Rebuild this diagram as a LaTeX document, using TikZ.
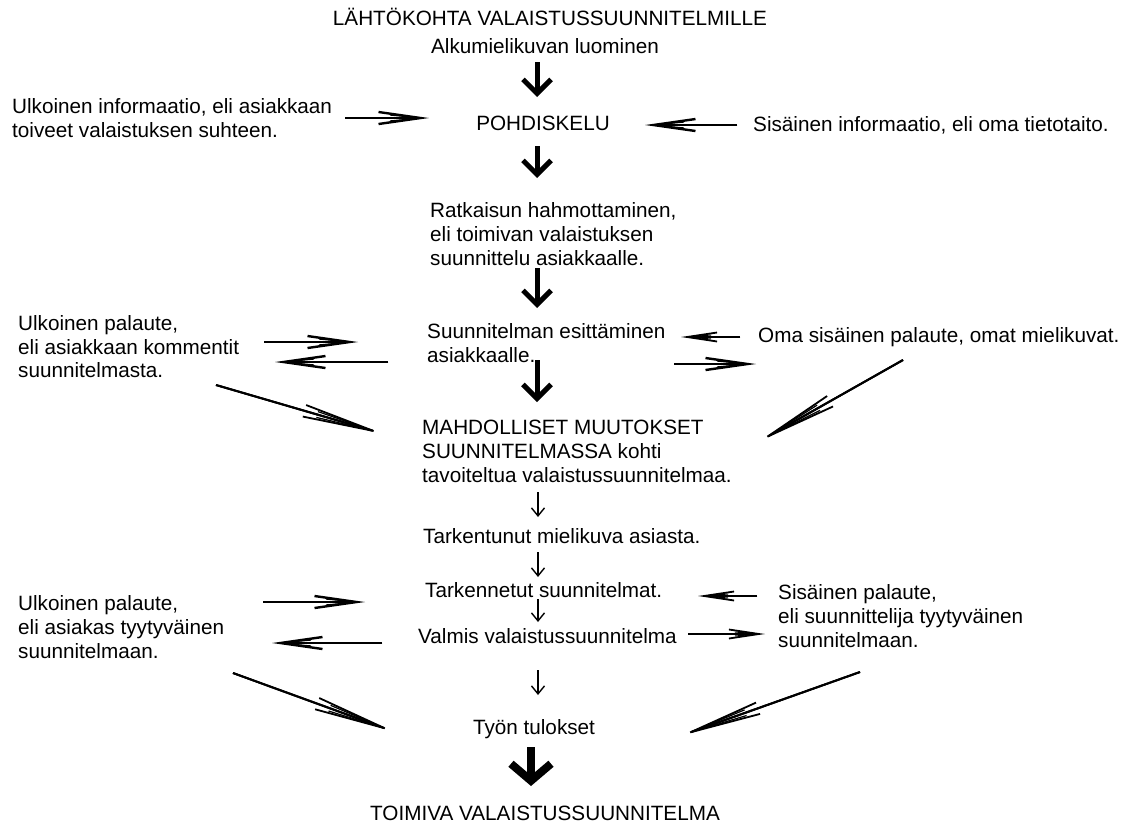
\documentclass[tikz,border=0pt]{standalone}
\usepackage{fontspec}
\setmainfont{Liberation Sans}
\usetikzlibrary{arrows.meta}
\begin{document}
\begin{tikzpicture}[x=1pt,y=-1pt,
  txt/.style={inner sep=0pt,font=\fontsize{20.7}{23.8}\selectfont,align=left},
  bigdown/.style={line width=5pt,-{Straight Barb[length=14pt,width=28pt]}},
  hugedown/.style={line width=8pt,-{Straight Barb[length=17pt,width=40pt]}},
  thindown/.style={line width=1.4pt,-{Straight Barb[length=8pt,width=13pt]}},
  feather/.style={line width=2.4pt,-{Straight Barb[length=42pt,width=12pt,line width=2.4pt]},
    postaction={draw,line width=1.4pt,-{Straight Barb[length=32pt,width=6pt,line width=1.3pt]}},
    postaction={draw,-,shorten >=14pt}},
  featherthin/.style={line width=1.4pt,-{Straight Barb[length=30pt,width=9pt,line width=1.8pt]},
    postaction={draw,line width=1pt,-{Straight Barb[length=24pt,width=4pt,line width=1pt]}},
    postaction={draw,-,shorten >=10pt}},
  diag/.style={line width=2pt,-{Straight Barb[length=72pt,width=12pt,line width=1.8pt]},
    postaction={draw,line width=1.2pt,-{Straight Barb[length=58pt,width=6pt,line width=1.2pt]}},
    postaction={draw,-,shorten >=20pt}}]
\useasboundingbox (0,0) rectangle (1122,825);
% texts
\node[txt,anchor=base] (title) at (550,25.4) {LÄHTÖKOHTA VALAISTUSSUUNNITELMILLE};
\node[txt,anchor=base] (alku) at (545,53.4) {Alkumielikuvan luominen};
\node[txt,anchor=north west] (ulkinfo) at (12,98.3) {Ulkoinen informaatio, eli asiakkaan\\toiveet valaistuksen suhteen.};
\node[txt,anchor=base] (pohd) at (543,130.4) {POHDISKELU};
\node[txt,anchor=base west] (sisinfo) at (753,131.4) {Sisäinen informaatio, eli oma tietotaito.};
\node[txt,anchor=north west] (ratk) at (430,202.3) {Ratkaisun hahmottaminen,\\eli toimivan valaistuksen\\suunnittelu asiakkaalle.};
\node[txt,anchor=north west] (esit) at (427,323.3) {Suunnitelman esittäminen\\asiakkaalle.};
\node[txt,anchor=north west] (ulkpal) at (18,315) {Ulkoinen palaute,\\eli asiakkaan kommentit\\suunnitelmasta.};
\node[txt,anchor=base west] (oma) at (758,342) {Oma sisäinen palaute, omat mielikuvat.};
\node[txt,anchor=north west] (mahd) at (422,420.3) {MAHDOLLISET MUUTOKSET\\SUUNNITELMASSA kohti\\tavoiteltua valaistussuunnitelmaa.};
\node[txt,anchor=base west] (tarkm) at (423,543.4) {Tarkentunut mielikuva asiasta.};
\node[txt,anchor=base west] (tarks) at (425,597.4) {Tarkennetut suunnitelmat.};
\node[txt,anchor=base west] (valmis) at (418,643.4) {Valmis valaistussuunnitelma};
\node[txt,anchor=north west] (ulkpal2) at (18,595.5) {Ulkoinen palaute,\\eli asiakas tyytyväinen\\suunnitelmaan.};
\node[txt,anchor=north west] (sispal) at (778,584.5) {Sisäinen palaute,\\eli suunnittelija tyytyväinen\\suunnitelmaan.};
\node[txt,anchor=base] (tyon) at (534,734) {Työn tulokset};
\node[txt,anchor=base] (toimiva) at (545,820.4) {TOIMIVA VALAISTUSSUUNNITELMA};
% arrow end points
\coordinate (a1s) at (537,62);  \coordinate (a1e) at (537,97);
\coordinate (a2s) at (537,146); \coordinate (a2e) at (537,178);
\coordinate (a3s) at (537,268); \coordinate (a3e) at (537,308);
\coordinate (a4s) at (537,360); \coordinate (a4e) at (537,402);
\coordinate (t1s) at (538,492); \coordinate (t1e) at (538,517);
\coordinate (t2s) at (538,552); \coordinate (t2e) at (538,577);
\coordinate (t3s) at (538,599); \coordinate (t3e) at (538,622);
\coordinate (t4s) at (538,670); \coordinate (t4e) at (538,695);
\coordinate (a5s) at (531,747); \coordinate (a5e) at (531,786);
\coordinate (h1s) at (345,118); \coordinate (h1e) at (429,118);
\coordinate (h2s) at (737,125); \coordinate (h2e) at (645,125);
\coordinate (h3s) at (264,342); \coordinate (h3e) at (358,342);
\coordinate (h4s) at (388,362); \coordinate (h4e) at (275,362);
\coordinate (h5s) at (740,337); \coordinate (h5e) at (681,337);
\coordinate (h6s) at (674,364); \coordinate (h6e) at (756,364);
\coordinate (h7s) at (263,602); \coordinate (h7e) at (365,602);
\coordinate (h8s) at (382,643); \coordinate (h8e) at (272,643);
\coordinate (h9s) at (757,596); \coordinate (h9e) at (698,596);
\coordinate (h10s) at (688,634); \coordinate (h10e) at (765,634);
\coordinate (d1s) at (216,385); \coordinate (d1e) at (384,434);
\coordinate (d2s) at (903,360); \coordinate (d2e) at (758,442);
\coordinate (d3s) at (233,673); \coordinate (d3e) at (395,732);
\coordinate (d4s) at (860,672); \coordinate (d4e) at (680,736);
% arrows
\draw[bigdown] (a1s) -- (a1e);
\draw[bigdown] (a2s) -- (a2e);
\draw[bigdown] (a3s) -- (a3e);
\draw[bigdown] (a4s) -- (a4e);
\draw[hugedown] (a5s) -- (a5e);
\draw[thindown] (t1s) -- (t1e);
\draw[thindown] (t2s) -- (t2e);
\draw[thindown] (t3s) -- (t3e);
\draw[thindown] (t4s) -- (t4e);
\draw[feather] (h1s) -- (h1e);
\draw[feather] (h2s) -- (h2e);
\draw[feather] (h3s) -- (h3e);
\draw[feather] (h4s) -- (h4e);
\draw[featherthin] (h5s) -- (h5e);
\draw[feather] (h6s) -- (h6e);
\draw[feather] (h7s) -- (h7e);
\draw[feather] (h8s) -- (h8e);
\draw[featherthin] (h9s) -- (h9e);
\draw[featherthin] (h10s) -- (h10e);
\draw[diag] (d1s) -- (d1e);
\draw[diag] (d2s) -- (d2e);
\draw[diag] (d3s) -- (d3e);
\draw[diag] (d4s) -- (d4e);
\end{tikzpicture}
\end{document}
